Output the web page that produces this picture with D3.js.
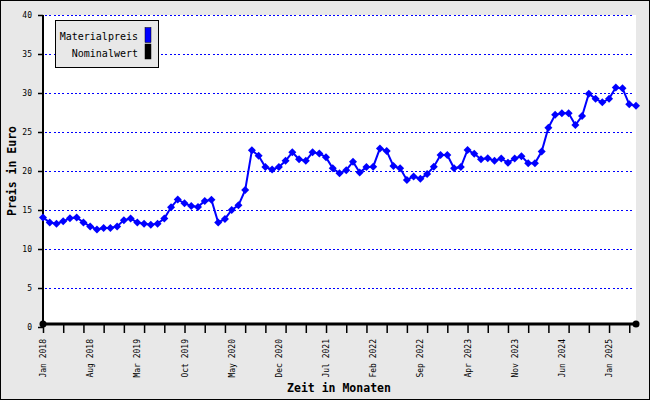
<!DOCTYPE html>
<html><head><meta charset="utf-8">
<script src="https://cdn.jsdelivr.net/npm/d3@7"></script>
<style>body{margin:0;background:#fff}svg{display:block}</style>
</head><body><svg id="c" width="650" height="400"></svg>
<script>
// Monthly values Jan 2018 .. May 2025
const materialpreis = [14.05,13.4,13.25,13.55,13.95,14.05,13.4,12.9,12.5,12.7,12.7,12.9,13.7,13.9,13.4,13.25,13.1,13.25,13.9,15.35,16.35,15.85,15.5,
  15.4,16.15,16.3,13.4,13.85,15.0,15.6,17.55,22.65,21.95,20.5,20.2,20.5,21.3,22.4,21.5,21.3,22.4,22.25,21.75,20.35,19.7,
  20.1,21.2,19.8,20.5,20.55,22.9,22.55,20.65,20.35,18.85,19.3,19.0,19.6,20.55,22.05,22.05,20.35,20.5,22.7,22.2,21.5,21.65,
  21.3,21.6,21.05,21.6,21.9,21.0,21.0,22.5,25.55,27.2,27.4,27.4,25.9,27.05,29.9,29.25,28.8,29.25,30.7,30.6,28.55,28.35];
const nominalIndex = [0, 88];
const nominalwert = [0.4, 0.4];
const xTickLabels = ["Jan 2018","Aug 2018","Mar 2019","Oct 2019","May 2020","Dec 2020","Jul 2021","Feb 2022","Sep 2022","Apr 2023","Nov 2023","Jun 2024","Jan 2025"];
const labelStep = 7;   // months between labels
const minorStep = 3;   // months between ticks
const yTicks = [0,5,10,15,20,25,30,35,40];
const seriesNames = ["Materialpreis","Nominalwert"];
const seriesColors = ["#0000ff","#000000"];

const svg = d3.select("#c");
const font = "'DejaVu Sans Mono', monospace";
const L = 43, R = 636, T = 15, B = 324;
const n = materialpreis.length;
const x = d3.scaleLinear().domain([0, n - 1]).range([L, R]);
const y = d3.scaleLinear().domain([0, 40]).range([327, T]);

// background + frame
svg.append("rect").attr("x",0.5).attr("y",0.5).attr("width",649).attr("height",399)
  .attr("fill","#e8e8e8").attr("stroke","#000").attr("stroke-width",1);
svg.append("rect").attr("x",L).attr("y",T).attr("width",R-L).attr("height",B-T).attr("fill","#fff");

// gridlines
svg.append("g").selectAll("line").data(yTicks.filter(d=>d>0)).join("line")
  .attr("x1",L+2).attr("x2",R-2).attr("y1",d=>Math.round(y(d))+0.5).attr("y2",d=>Math.round(y(d))+0.5)
  .attr("stroke","#0000ff").attr("stroke-width",1).attr("stroke-dasharray","2,2.3")
  .attr("shape-rendering","crispEdges");

// y axis
const yAxis = d3.axisLeft(y).tickValues(yTicks).tickSize(5).tickPadding(6).tickFormat(d3.format("d"));
const gy = svg.append("g").attr("transform",`translate(${L},0)`).call(yAxis);
gy.select(".domain").remove();
gy.selectAll(".tick line").attr("stroke","#000").attr("stroke-width",1.5);
gy.selectAll(".tick text").attr("font-family",font).attr("font-size",8).attr("fill","#000");
svg.append("line").attr("x1",L).attr("x2",L).attr("y1",T).attr("y2",B).attr("stroke","#000").attr("stroke-width",2);

// x axis ticks
const minor = d3.range(0, n, minorStep);
const xAxis = d3.axisBottom(x).tickValues(minor).tickSize(9).tickFormat("");
const gx = svg.append("g").attr("transform",`translate(0,${B})`).call(xAxis);
gx.select(".domain").remove();
gx.selectAll(".tick line").attr("stroke","#000").attr("stroke-width",1.5);
svg.append("line").attr("x1",L).attr("x2",R).attr("y1",B).attr("y2",B).attr("stroke","#000").attr("stroke-width",3);

// x labels
svg.append("g").selectAll("text").data(xTickLabels).join("text")
  .attr("transform",(d,i)=>`translate(${x(i*labelStep)+3},${B+15}) rotate(-90)`)
  .attr("text-anchor","end").attr("font-family",font).attr("font-size",8).attr("fill","#000")
  .text(d=>d);

// series line
svg.append("path").datum(materialpreis)
  .attr("d", d3.line().x((d,i)=>x(i)).y(d=>y(d)))
  .attr("fill","none").attr("stroke",seriesColors[0]).attr("stroke-width",2);
svg.append("g").selectAll("path").data(materialpreis).join("path")
  .attr("transform",(d,i)=>`translate(${x(i)},${y(d)})`)
  .attr("d","M0,-4L4,0L0,4L-4,0Z").attr("fill",seriesColors[0]);

// nominal markers
svg.append("g").selectAll("circle").data(nominalwert).join("circle")
  .attr("cx",(d,i)=>x(nominalIndex[i])).attr("cy",d=>y(d)).attr("r",3.5).attr("fill",seriesColors[1]);

// axis titles
svg.append("text").attr("x",339).attr("y",392).attr("text-anchor","middle")
  .attr("font-family",font).attr("font-weight","bold").attr("font-size",11.5).text("Zeit in Monaten");
svg.append("text").attr("transform","translate(16,171) rotate(-90)").attr("text-anchor","middle")
  .attr("font-family",font).attr("font-weight","bold").attr("font-size",11.5).text("Preis in Euro");

// legend
const lg = svg.append("g");
lg.append("rect").attr("x",55.5).attr("y",20.5).attr("width",103).attr("height",47)
  .attr("fill","#e8e8e8").attr("stroke","#000").attr("stroke-width",1);
seriesNames.forEach((s,i)=>{
  lg.append("text").attr("x",138).attr("y",40+i*16.5).attr("text-anchor","end")
    .attr("font-family",font).attr("font-size",10).attr("fill","#000").text(s);
  lg.append("rect").attr("x",145).attr("y",27.5+i*16.5).attr("width",6).attr("height",15)
    .attr("fill",seriesColors[i]).attr("stroke","#000").attr("stroke-width",0.5);
});
</script></body></html>
